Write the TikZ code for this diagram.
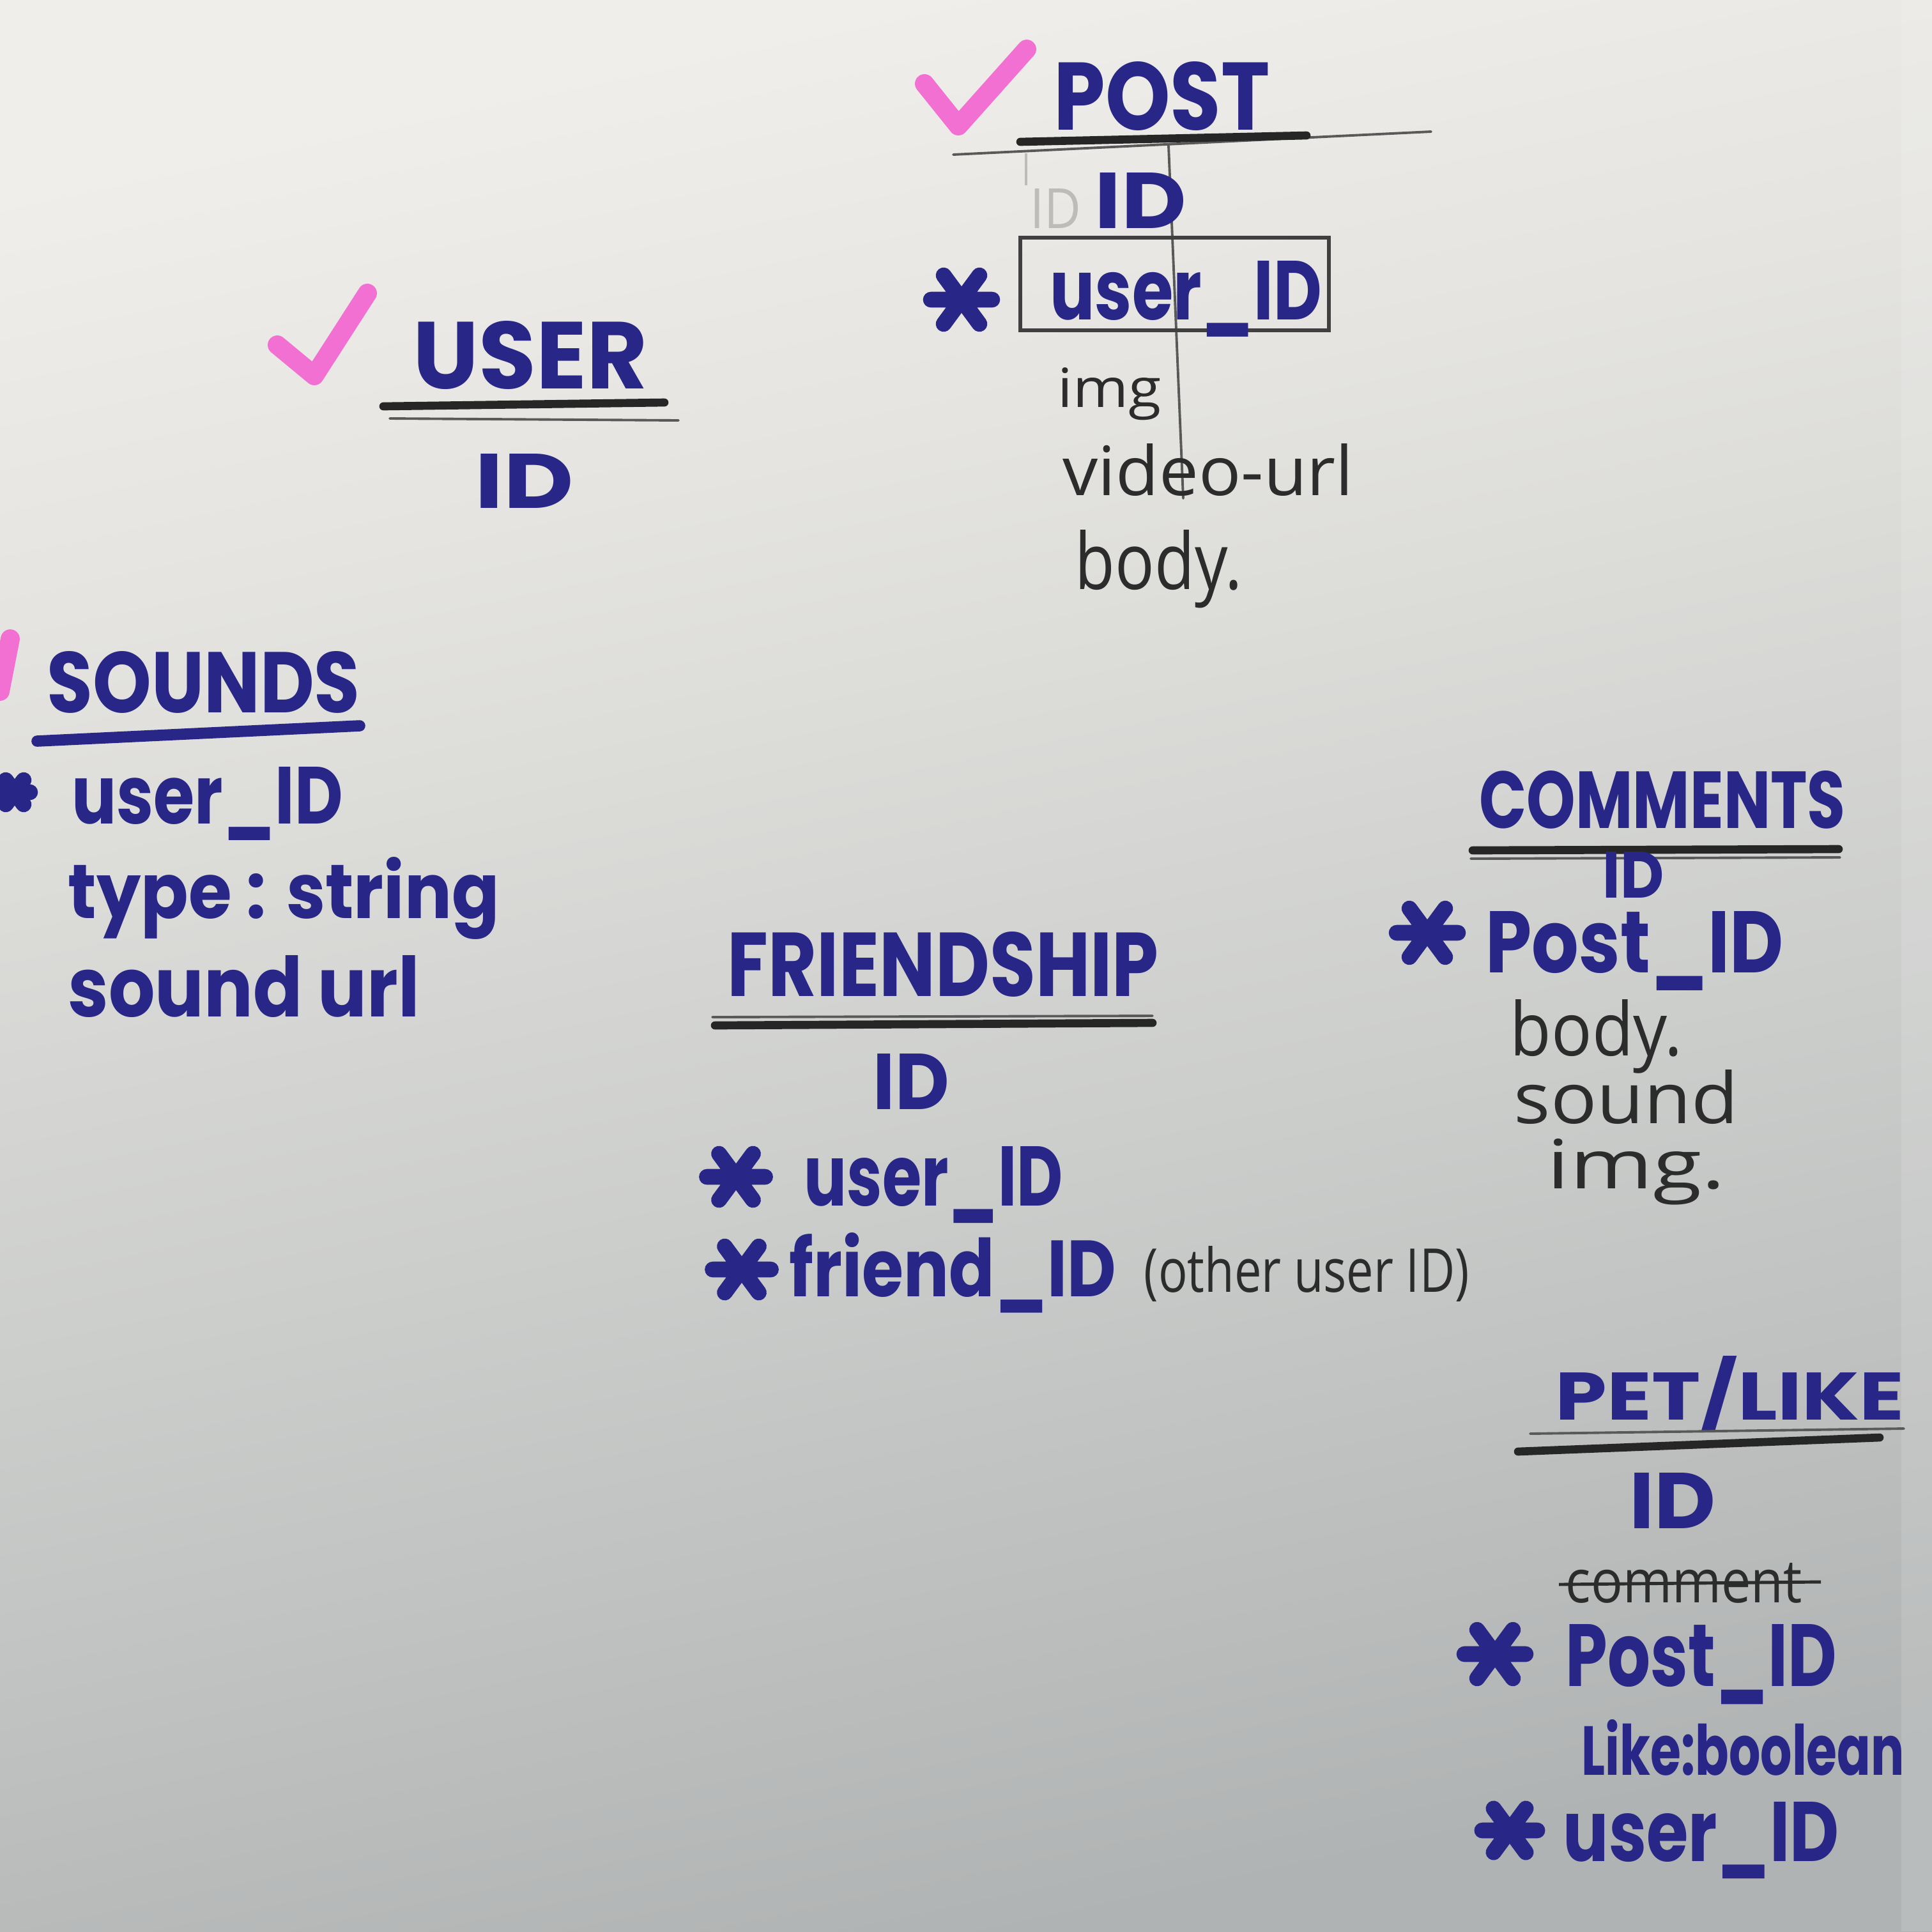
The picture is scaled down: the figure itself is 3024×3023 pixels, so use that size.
\documentclass[tikz,border=0pt]{standalone}
\usepackage{fontspec}
\newfontfamily\mk{Poppins}
\newfontfamily\pc{Open Sans}
\definecolor{ink}{RGB}{40,38,134}
\definecolor{pencil}{RGB}{44,44,44}
\definecolor{ghost}{RGB}{188,188,185}
\definecolor{hipink}{RGB}{242,112,210}
\definecolor{pb}{RGB}{176,179,179}
\definecolor{pm}{RGB}{204,206,204}
\definecolor{pu}{RGB}{229,228,224}
\definecolor{ptop}{RGB}{240,238,234}
\pgfdeclareverticalshading{paper}{100bp}{color(0bp)=(pb); color(25bp)=(pb); color(45bp)=(pm); color(64bp)=(pu); color(75bp)=(ptop); color(100bp)=(ptop)}
\newcommand\rb[3]{\resizebox{#1\dimexpr0.01cm\relax}{#2\dimexpr0.01cm\relax}{#3}}
\begin{document}
\begin{tikzpicture}[x=0.01cm,y=-0.01cm,
  bt/.style={anchor=base west, inner sep=0pt, text=ink, font=\mk\bfseries},
  pt/.style={anchor=base west, inner sep=0pt, text=pencil, font=\pc},
  rulebar/.style={draw=black!85, line width=3.6pt, line cap=round},
  thinrule/.style={draw=black!65, line width=1.1pt, line cap=round},
  inkrule/.style={draw=ink, line width=5pt, line cap=round},
  checkmark/.style={draw=hipink, line width=8.5pt, line cap=round, line join=round},
  asterisk/.pic={\draw[ink, line width=7pt, line cap=round] (-48,0)--(48,0) (-28,-38)--(28,38) (28,-38)--(-28,38);}]
\useasboundingbox (0,0) rectangle (3024,3023);
\shade[shading=paper, shading angle=12] (0,0) rectangle (3024,3023);
\fill[white, opacity=0.12] (2976,0) rectangle (3024,3023);

% ---------- POST ----------
\draw[checkmark] (1447,131) -- (1500,197) -- (1607,77);
\node[bt] (postT) at (1649,203) {\rb{338}{107}{POST}};
\draw[thinrule] (1492,242) -- (2240,206);
\draw[rulebar] (1597,222) -- (2045,212);
\draw[thinrule] (1829,228) -- (1852,780);
\draw[draw=ghost, line width=1pt] (1606,240) -- (1606,290);
\node[anchor=base west, inner sep=0pt, text=ghost, font=\pc] (postGhost) at (1612,357) {\rb{80}{62}{ID}};
\node[bt] (postID) at (1713,357) {\rb{143}{87}{ID}};
\pic (postS) at (1505,469) {asterisk};
\draw[draw=black!75, line width=1.6pt] (1597,372) rectangle (2080,517);
\node[bt] (postU) at (1643,500) {\rb{425}{92}{user\_ID}};
\node[pt] (postImg) at (1655,637) {\rb{162}{62}{img}};
\node[pt] (postVid) at (1663,775) {\rb{455}{81}{video-url}};
\node[pt] (postBody) at (1682,922) {\rb{262}{93}{body.}};

% ---------- USER ----------
\draw[checkmark] (434,540) -- (492,588) -- (575,459);
\node[bt] (userT) at (646,608) {\rb{367}{106}{USER}};
\draw[rulebar] (600,636) -- (1040,630);
\draw[thinrule] (610,655) -- (1062,658);
\node[bt] (userID) at (743,795) {\rb{154}{85}{ID}};

% ---------- SOUNDS ----------
\draw[checkmark] (16,1000) -- (0,1082);
\node[bt] (sndT) at (73,1115) {\rb{490}{96}{SOUNDS}};
\draw[inkrule] (58,1160) -- (563,1136);
\pic[scale=0.5] (sndS) at (23,1240) {asterisk};
\node[bt] (sndU) at (112,1289) {\rb{424}{89}{user\_ID}};
\node[bt] (sndType) at (106,1437) {\rb{675}{96}{type : string}};
\node[bt] (sndUrl) at (106,1591) {\rb{550}{96}{sound url}};

% ---------- COMMENTS ----------
\node[bt] (comT) at (2315,1296) {\rb{573}{90}{COMMENTS}};
\draw[rulebar] (2305,1331) -- (2878,1329);
\draw[thinrule] (2302,1344) -- (2880,1342);
\node[bt] (comID) at (2508,1405) {\rb{96}{72}{ID}};
\pic (comS) at (2234,1460) {asterisk};
\node[bt] (comP) at (2325,1522) {\rb{466}{96}{Post\_ID}};
\node[pt] (comBody) at (2363,1652) {\rb{270}{88}{body.}};
\node[pt] (comSound) at (2369,1758) {\rb{351}{84}{sound}};
\node[pt] (comImg) at (2421,1860) {\rb{279}{78}{img.}};

% ---------- FRIENDSHIP ----------
\node[bt] (frT) at (1138,1559) {\rb{675}{101}{FRIENDSHIP}};
\draw[rulebar] (1119,1605) -- (1804,1601);
\draw[thinrule] (1115,1592) -- (1804,1590);
\node[bt] (frID) at (1366,1736) {\rb{119}{87}{ID}};
\pic[scale=0.95] (frS1) at (1152,1842) {asterisk};
\node[bt] (frU) at (1258,1887) {\rb{405}{93}{user\_ID}};
\pic[scale=0.95] (frS2) at (1161,1987) {asterisk};
\node[bt] (frF) at (1235,2029) {\rb{511}{100}{friend\_ID}};
\node[pt] (frNote) at (1790,2022) {\rb{509}{72}{(other user ID)}};

% ---------- PET/LIKE ----------
\node[bt] (petT) at (2434,2222) {\rb{546}{100}{PET/LIKE}};
\draw[thinrule] (2395,2244) -- (2980,2236);
\draw[rulebar] (2376,2272) -- (2942,2250);
\node[bt] (petID) at (2550,2392) {\rb{135}{87}{ID}};
\node[pt] (petCom) at (2450,2508) {\rb{370}{62}{comment}};
\draw[draw=pencil, line width=1.4pt] (2440,2480) -- (2850,2476);
\pic (petS1) at (2340,2589) {asterisk};
\node[bt] (petP) at (2450,2639) {\rb{424}{97}{Post\_ID}};
\node[bt] (petL) at (2475,2778) {\rb{505}{87}{Like:boolean}};
\pic[scale=0.9] (petS2) at (2363,2865) {asterisk};
\node[bt] (petU) at (2446,2913) {\rb{432}{93}{user\_ID}};
\end{tikzpicture}
\end{document}
